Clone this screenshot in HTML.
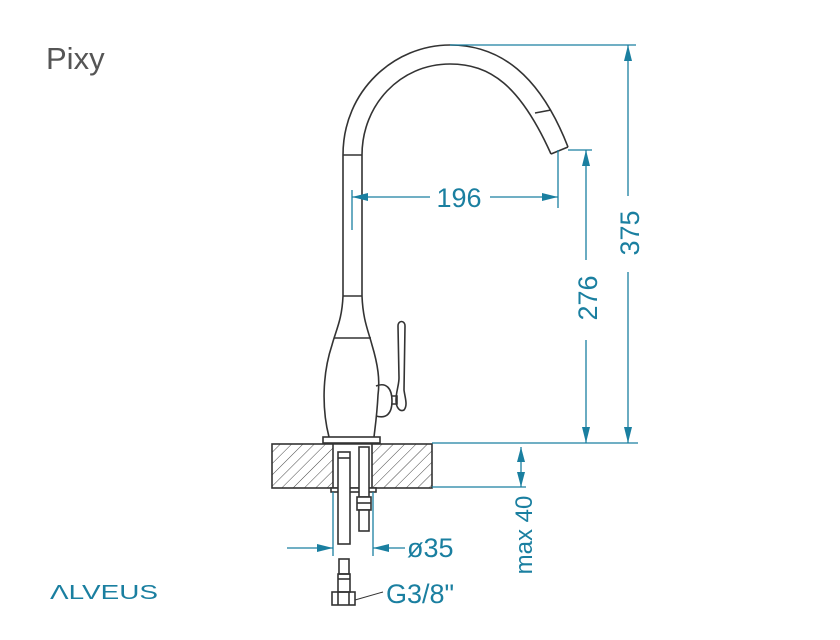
<!DOCTYPE html>
<html><head><meta charset="utf-8"><style>
html,body{margin:0;padding:0;background:#fff;}
svg{display:block;}
</style></head><body>
<svg width="840" height="640" viewBox="0 0 840 640" xmlns="http://www.w3.org/2000/svg">
<defs>
<pattern id="h" patternUnits="userSpaceOnUse" width="8" height="8" patternTransform="rotate(45)">
<line x1="0" y1="0" x2="0" y2="8" stroke="#333" stroke-width="0.9"/>
</pattern>
</defs>
<rect width="840" height="640" fill="#fff"/>
<text x="46" y="69" font-family="Liberation Sans, sans-serif" font-size="31" fill="#555">Pixy</text>
<text x="50" y="599" font-family="Liberation Sans, sans-serif" font-size="20" fill="#1a7fa0" textLength="108" lengthAdjust="spacingAndGlyphs">ΛLVEUS</text>

<g fill="none" stroke="#333" stroke-width="1.6">
<!-- spout -->
<path d="M343,296 L343,155 C343,90 395,45 450,45 C500,45 540,75 568,147"/>
<path d="M362,296 L362,155 C362,105 400,64 450,64 C490,64 520,85 551,154"/>
<line x1="343" y1="155" x2="362" y2="155"/>
<line x1="535" y1="113" x2="551" y2="110"/>
<line x1="551" y1="154" x2="568" y2="147"/>
<!-- body -->
<line x1="343" y1="296" x2="362" y2="296"/>
<path d="M343,296 C342,320 336,330 332,345 C322,375 322,410 329,437"/>
<path d="M362,296 C363,320 368,330 372,345 C378,365 380,380 378,395 C377,415 375,428 374,437"/>
<line x1="334" y1="338" x2="371" y2="338"/>
<path d="M376,386 C386,382 392,388 392,401 C392,414 386,419 376,416"/>
<path d="M392,396 L397,396 L397,404 L392,404"/>
<path d="M398,326 C398,320 405,320 405,326 L404,390 C405,398 408,405 404,410 C400,412 396,408 396,400 C396,392 399,385 399,378 Z"/>
<rect x="323" y="437" width="57" height="6"/>
<!-- countertop -->
<rect x="272" y="444" width="61" height="44" fill="url(#h)"/>
<rect x="372" y="444" width="60" height="44" fill="url(#h)"/>
<line x1="333" y1="444" x2="372" y2="444"/>
<line x1="333" y1="488" x2="372" y2="488"/>
<rect x="331" y="488" width="45" height="4" fill="#fff"/>
<!-- tubes -->
<rect x="338" y="452" width="12" height="92" fill="#fff"/>
<line x1="338" y1="458" x2="350" y2="458"/>
<rect x="359" y="447" width="10" height="50" fill="#fff"/>
<rect x="357" y="497" width="14" height="13" fill="#fff"/>
<line x1="357" y1="503" x2="371" y2="503"/>
<rect x="359" y="510" width="10" height="21" fill="#fff"/>
<!-- connector -->
<rect x="339" y="559" width="10" height="15"/>
<rect x="338" y="574" width="12" height="18"/>
<line x1="338" y1="579" x2="350" y2="579"/>
<rect x="332" y="592" width="23" height="13"/>
<line x1="338" y1="592" x2="338" y2="605"/>
<line x1="349" y1="592" x2="349" y2="605"/>
<line x1="355" y1="600" x2="383" y2="592" stroke-width="1"/>
</g>

<g stroke="#1a7fa0" stroke-width="1.3" fill="#1a7fa0">
<line x1="450" y1="45" x2="636" y2="45"/>
<line x1="568" y1="150" x2="592" y2="150"/>
<line x1="432" y1="443" x2="638" y2="443"/>
<line x1="432" y1="487" x2="526" y2="487"/>
<line x1="352" y1="190" x2="352" y2="230"/>
<line x1="558" y1="150" x2="558" y2="208"/>
<line x1="352" y1="197" x2="430" y2="197"/>
<line x1="490" y1="197" x2="558" y2="197"/>
<path d="M352,197 L368,193 L368,201 Z" stroke="none"/>
<path d="M558,197 L542,193 L542,201 Z" stroke="none"/>
<line x1="586" y1="150" x2="586" y2="260"/>
<line x1="586" y1="340" x2="586" y2="443"/>
<path d="M586,150 L582,166 L590,166 Z" stroke="none"/>
<path d="M586,443 L582,427 L590,427 Z" stroke="none"/>
<line x1="628" y1="45" x2="628" y2="196"/>
<line x1="628" y1="272" x2="628" y2="443"/>
<path d="M628,45 L624,61 L632,61 Z" stroke="none"/>
<path d="M628,443 L624,427 L632,427 Z" stroke="none"/>
<line x1="521" y1="447" x2="521" y2="487"/>
<path d="M521,447 L517,462 L525,462 Z" stroke="none"/>
<path d="M521,487 L517,472 L525,472 Z" stroke="none"/>
<line x1="333" y1="492" x2="333" y2="556"/>
<line x1="373" y1="492" x2="373" y2="556"/>
<line x1="287" y1="548" x2="333" y2="548"/>
<line x1="373" y1="548" x2="405" y2="548"/>
<path d="M333,548 L317,544 L317,552 Z" stroke="none"/>
<path d="M373,548 L389,544 L389,552 Z" stroke="none"/>
</g>
<g font-family="Liberation Sans, sans-serif" fill="#1a7fa0" font-size="27">
<text x="459" y="207" text-anchor="middle">196</text>
<text transform="translate(597,298) rotate(-90)" text-anchor="middle">276</text>
<text transform="translate(639,233) rotate(-90)" text-anchor="middle">375</text>
<text transform="translate(532,535) rotate(-90)" text-anchor="middle" font-size="24">max 40</text>
<text x="407" y="557">ø35</text>
<text x="386" y="603">G3/8"</text>
</g>
</svg>
</body></html>
